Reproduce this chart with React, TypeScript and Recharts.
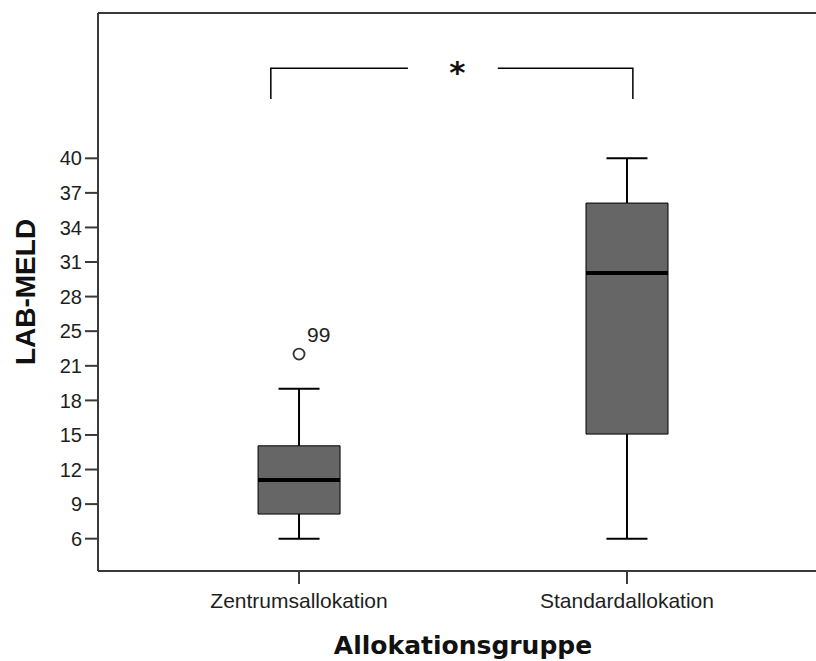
import React from 'react'
import {
  ComposedChart,
  XAxis,
  YAxis,
  Bar,
  Line,
  Scatter,
  ErrorBar,
  Label,
} from 'recharts'

// ── data ──────────────────────────────────────────────────────────────────────

const groups = ['Zentrumsallokation', 'Standardallokation']
const groupPos = [1, 2]

const whiskerLow = [6, 6]
const lowerQuartile = [8.2, 15.35]
const medians = [11.25, 29.75]
const upperQuartile = [14.3, 36]
const whiskerHigh = [19.4, 40]

// extreme values beyond the whiskers (SPSS marks them with the case number)
const outlierGroup = [1]
const outlierValue = [22.5]
const outlierCase = ['99']

// SPSS spreads 12 ticks evenly between 6 and 40 and rounds the labels
const yTickValues = [6, 9.09, 12.18, 15.27, 18.36, 21.45, 24.55, 27.64, 30.73, 33.82, 36.91, 40]
const yTickLabels = ['6', '9', '12', '15', '18', '21', '25', '28', '31', '34', '37', '40']

// significance bracket between the two groups
const bracketTop = 48.06
const bracketFoot = 45.3
const bracketEnds = [0.914, 2.018]
const bracketGap = [1.332, 1.606]
const bracketMarkPos = 1.483
const bracketMark = '*'

// ── derived rows ──────────────────────────────────────────────────────────────

const boxRows = groupPos.map((x, i) => ({ x, box: [lowerQuartile[i], upperQuartile[i]] }))

// stems run from the box edge out to the whisker end
const upperStemRows = groupPos.map((x, i) => ({
  x,
  y: upperQuartile[i],
  err: [0, whiskerHigh[i] - upperQuartile[i]],
}))
const lowerStemRows = groupPos.map((x, i) => ({
  x,
  y: lowerQuartile[i],
  err: [lowerQuartile[i] - whiskerLow[i], 0],
}))
const capRows = groupPos.flatMap((x, i) => [
  { x, y: whiskerLow[i] },
  { x, y: whiskerHigh[i] },
])

const medianRows = groupPos.map((x, i) => ({ x, y: medians[i] }))

const outlierRows = outlierValue.map((y, i) => ({ x: outlierGroup[i], y, label: outlierCase[i] }))

const bracketLeft = [
  { x: bracketEnds[0], y: bracketFoot },
  { x: bracketEnds[0], y: bracketTop },
  { x: bracketGap[0], y: bracketTop },
]
const bracketRight = [
  { x: bracketGap[1], y: bracketTop },
  { x: bracketEnds[1], y: bracketTop },
  { x: bracketEnds[1], y: bracketFoot },
]
const markRows = [{ x: bracketMarkPos, y: bracketTop, label: bracketMark }]

// ── styling ───────────────────────────────────────────────────────────────────

const FONT = '"Liberation Sans", Arial, sans-serif'
const AXIS = '#3a3a3a'
const BOX_WIDTH = 82
const CAP_WIDTH = 41
const X_DOMAIN: [number, number] = [0.387, 2.613]
const Y_DOMAIN: [number, number] = [3.11, 52.99]

const hLine = (width: number, strokeWidth: number) => (props: any) => {
  const { cx, cy } = props
  if (cx == null || cy == null) return null
  return (
    <line
      x1={cx - width / 2}
      x2={cx + width / 2}
      y1={cy}
      y2={cy}
      stroke="#000"
      strokeWidth={strokeWidth}
    />
  )
}

const MedianMark = hLine(BOX_WIDTH, 4)
const CapMark = hLine(CAP_WIDTH, 2)

const OutlierMark = (props: any) => {
  const { cx, cy, payload } = props
  if (cx == null || cy == null) return null
  return (
    <g>
      <circle cx={cx} cy={cy} r={5.5} fill="#fff" stroke="#333" strokeWidth={1.8} />
      <text x={cx + 8} y={cy - 12} fontSize={21} fontFamily={FONT} fill="#222">
        {payload.label}
      </text>
    </g>
  )
}

const SigMark = (props: any) => {
  const { cx, cy, payload } = props
  if (cx == null || cy == null) return null
  return (
    <text
      x={cx}
      y={cy + 15}
      textAnchor="middle"
      fontSize={31}
      fontWeight="bold"
      fontFamily='"DejaVu Sans", sans-serif'
      fill="#111"
    >
      {payload.label}
    </text>
  )
}

const YTitle = (props: any) => {
  const { x, y, height } = props.viewBox
  const tx = x + 35
  const ty = y + height / 2
  return (
    <text
      x={tx}
      y={ty}
      transform={`rotate(-90 ${tx} ${ty})`}
      textAnchor="middle"
      fontSize={28}
      fontWeight="bold"
      fontFamily={FONT}
      fill="#111"
    >
      LAB-MELD
    </text>
  )
}

const XTitle = (props: any) => {
  const { x, y, width } = props.viewBox
  return (
    <text
      x={x + width / 2}
      y={y + 83}
      textAnchor="middle"
      fontSize={25}
      fontWeight="bold"
      fontFamily='"DejaVu Sans", sans-serif'
      fill="#111"
    >
      Allokationsgruppe
    </text>
  )
}

export default function App() {
  return (
    <div
      style={{
        position: 'absolute',
        left: 0,
        top: 0,
        width: 816,
        height: 661,
        overflow: 'hidden',
        background: '#fff',
      }}
    >
      <ComposedChart
        width={830}
        height={661}
        data={boxRows}
        margin={{ top: 12, right: 2, bottom: 0, left: 0 }}
      >
        {/* top frame line; also carries the bracket annotation */}
        <XAxis
          xAxisId="top"
          orientation="top"
          type="number"
          dataKey="x"
          domain={X_DOMAIN}
          allowDataOverflow
          height={1}
          tick={false}
          tickLine={false}
          axisLine={{ stroke: AXIS, strokeWidth: 2 }}
        />
        <XAxis
          type="number"
          dataKey="x"
          domain={X_DOMAIN}
          allowDataOverflow
          ticks={groupPos}
          tickFormatter={(v) => groups[groupPos.indexOf(v as number)] ?? ''}
          height={90}
          tickSize={13}
          tickMargin={9}
          tick={{ fontSize: 21, fill: '#1e1e1e', fontFamily: FONT }}
          tickLine={{ stroke: AXIS, strokeWidth: 2 }}
          axisLine={{ stroke: AXIS, strokeWidth: 2 }}
        >
          <Label content={XTitle} />
        </XAxis>
        <YAxis
          type="number"
          domain={Y_DOMAIN}
          allowDataOverflow
          ticks={yTickValues}
          tickFormatter={(_v, i) => yTickLabels[i]}
          width={98}
          tickSize={13}
          tickMargin={3}
          tick={{ fontSize: 20, fill: '#1e1e1e', fontFamily: FONT }}
          tickLine={{ stroke: AXIS, strokeWidth: 2 }}
          axisLine={{ stroke: AXIS, strokeWidth: 2 }}
        >
          <Label content={YTitle} />
        </YAxis>

        <Bar
          dataKey="box"
          barSize={BOX_WIDTH}
          fill="#666666"
          stroke="#000"
          strokeWidth={1}
          isAnimationActive={false}
        />
        <Scatter data={upperStemRows} dataKey="y" shape={() => null} isAnimationActive={false}>
          <ErrorBar dataKey="err" direction="y" width={0} stroke="#000" strokeWidth={2} />
        </Scatter>
        <Scatter data={lowerStemRows} dataKey="y" shape={() => null} isAnimationActive={false}>
          <ErrorBar dataKey="err" direction="y" width={0} stroke="#000" strokeWidth={2} />
        </Scatter>
        <Scatter data={capRows} dataKey="y" shape={CapMark} isAnimationActive={false} />
        <Scatter data={medianRows} dataKey="y" shape={MedianMark} isAnimationActive={false} />
        <Scatter data={outlierRows} dataKey="y" shape={OutlierMark} isAnimationActive={false} />

        <Line xAxisId="top" data={bracketLeft} dataKey="y" type="linear" stroke="#000" strokeWidth={1.5} dot={false} isAnimationActive={false} />
        <Line xAxisId="top" data={bracketRight} dataKey="y" type="linear" stroke="#000" strokeWidth={1.5} dot={false} isAnimationActive={false} />
        <Scatter xAxisId="top" data={markRows} dataKey="y" shape={SigMark} isAnimationActive={false} />
      </ComposedChart>
    </div>
  )
}
